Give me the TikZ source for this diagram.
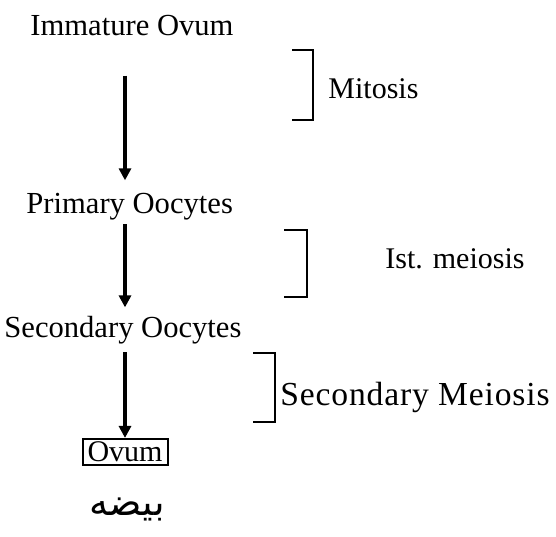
\documentclass[tikz,border=0pt]{standalone}
\usepackage{fontspec}
\setmainfont{Liberation Serif}
\newfontfamily\urdufont[Script=Arabic]{DejaVu Sans}
\TeXXeTstate=1
\usetikzlibrary{arrows.meta}

\begin{document}
\begin{tikzpicture}[
    x=0.5pt, y=-0.5pt,
    stage/.style={inner sep=0pt, anchor=base west, font=\fontsize{15.3}{17}\selectfont},
    phase/.style={inner sep=0pt, anchor=base west, font=\fontsize{15}{17}\selectfont},
    final/.style={draw, line width=1pt, inner xsep=2.5pt, inner ysep=1.5pt, font=\fontsize{15}{17}\selectfont},
    arr/.style={-{Triangle[length=6pt,width=6pt]}, line width=2.4pt},
    brk/.style={line width=1.1pt}
  ]
    \useasboundingbox (0,0) rectangle (556,536);

    \node[stage] (immature)  at (30,35)  {Immature Ovum};
    \node[stage] (primary)   at (26,213) {Primary Oocytes};
    \node[stage] (secondary) at (4,337)  {Secondary Oocytes};
    \node[final] (ovum)      at (125,452) {Ovum};
    \node[font=\urdufont\fontsize{19}{21}\selectfont] (urdu) at (127,509) {\beginR بیضه\endR};

    \draw[arr] ([yshift=-20pt]ovum |- immature.south) -- ([yshift=6pt]ovum |- primary.north);
    \draw[arr] ([yshift=-2pt]ovum |- primary.south) -- ([yshift=4pt]ovum |- secondary.north);
    \draw[arr] ([yshift=-4pt]ovum |- secondary.south) -- (ovum.north);

    % brackets
    \draw[brk] (292,50) -- (313,50) -- (313,120) -- (292,120);
    \node[phase] (mitosis) at (328,98) {Mitosis};
    \draw[brk] (284,230) -- (307,230) -- (307,297) -- (284,297);
    \node[phase] (meiosisone) at (385,268) {Ist. meiosis};
    \draw[brk] (253,353) -- (275,353) -- (275,422) -- (253,422);
    \node[phase, font=\fontsize{16.8}{18}\selectfont\addfontfeatures{LetterSpace=2.5}] (meiosistwo) at (280,405) {Secondary Meiosis};
\end{tikzpicture}
\end{document}
